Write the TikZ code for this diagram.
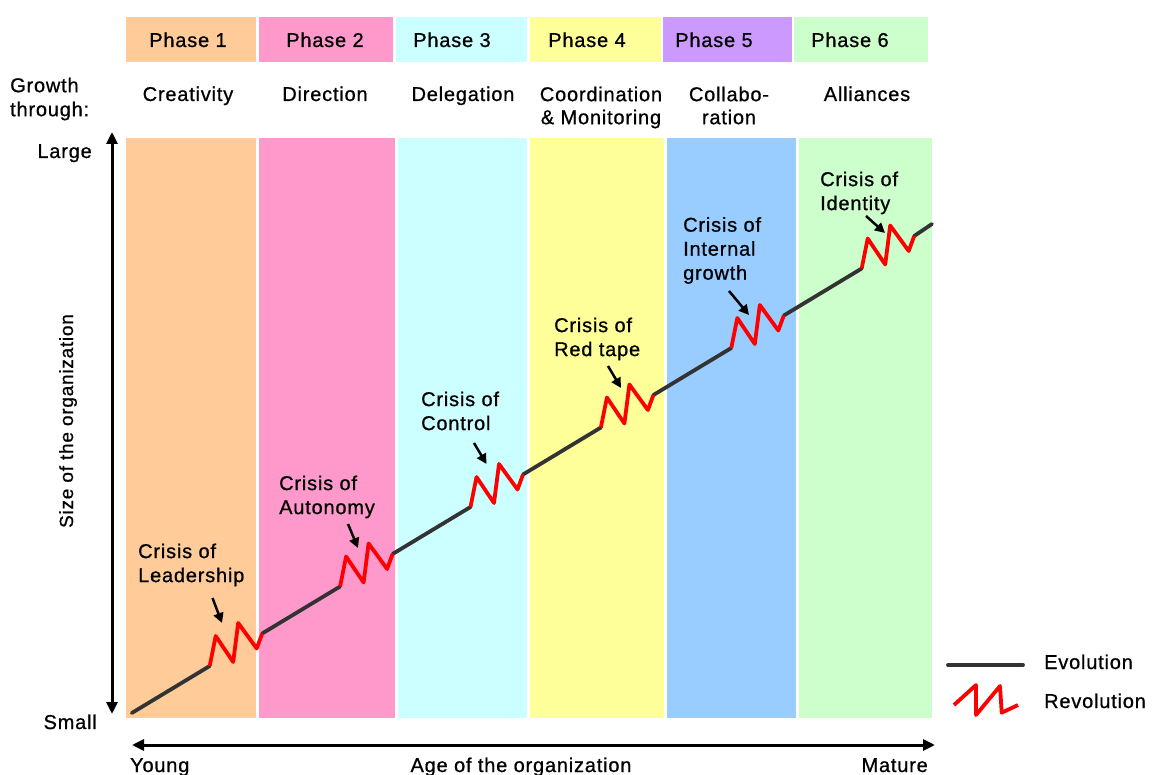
\documentclass[tikz,border=0pt]{standalone}
\usepackage{fontspec}
\setmainfont{Liberation Sans}[LetterSpace=4,FakeBold=0.8]
\usetikzlibrary{arrows.meta}
\definecolor{phA}{HTML}{FFCC99}
\definecolor{phB}{HTML}{FF99CC}
\definecolor{phC}{HTML}{CCFFFF}
\definecolor{phD}{HTML}{FFFF99}
\definecolor{phE}{HTML}{CC99FF}
\definecolor{phEbody}{HTML}{99CCFF}
\definecolor{phF}{HTML}{CCFFCC}
\definecolor{evocol}{HTML}{333333}
\definecolor{revcol}{HTML}{FF0000}
\begin{document}
\begin{tikzpicture}[x=1pt,y=-1pt,
  lbl/.style={font=\fontsize{20}{24}\selectfont, inner sep=0pt, anchor=base},
  lblblock/.style={font=\fontsize{20}{24}\selectfont, inner sep=0pt, align=left, anchor=north west},
  lblcenter/.style={font=\fontsize{20}{23}\selectfont, inner sep=0pt, align=center, anchor=north},
  evoline/.style={draw=evocol, line width=3.8pt, line cap=round},
  revline/.style={draw=revcol, line width=3.8pt, line join=round},
  axisarrow/.style={draw=black, line width=3pt, {Triangle[length=12pt,width=11pt]}-{Triangle[length=12pt,width=11pt]}},
  crisisarrow/.style={draw=black, line width=2.5pt, -{Triangle[length=10pt,width=10pt]}}
]
% page
\fill[white] (0,0) rectangle (1152,775);
\useasboundingbox (0,0) rectangle (1152,775);

% phase headers
\fill[phA] (126,17) rectangle (256,62);
\fill[phB] (259,17) rectangle (393,62);
\fill[phC] (396,17) rectangle (527,62);
\fill[phD] (530,17) rectangle (661,62);
\fill[phE] (663,17) rectangle (792,62);
\fill[phF] (794,17) rectangle (928,62);
\node[lbl] (h1) at (188,47) {Phase 1};
\node[lbl] (h2) at (325,47) {Phase 2};
\node[lbl] (h3) at (452,47) {Phase 3};
\node[lbl] (h4) at (587,47) {Phase 4};
\node[lbl] (h5) at (714,47) {Phase 5};
\node[lbl] (h6) at (850,47) {Phase 6};

% phase columns
\fill[phA] (126,138) rectangle (256,718);
\fill[phB] (259,138) rectangle (395,718);
\fill[phC] (398,138) rectangle (527,718);
\fill[phD] (530,138) rectangle (664,718);
\fill[phEbody] (667,138) rectangle (796,718);
\fill[phF] (799,138) rectangle (932,718);

% growth row
\node[lblblock] (gt) at (10,77.5) {Growth\\through:};
\node[lbl] (g1) at (188,101) {Creativity};
\node[lbl] (g2) at (325,101) {Direction};
\node[lbl] (g3) at (463,101) {Delegation};
\node[lblcenter] (g4) at (601,86.5) {Coordination\\\& Monitoring};
\node[lblcenter] (g5) at (729,86.5) {Collabo-\\ration};
\node[lbl] (g6) at (867,101) {Alliances};

% axes
\coordinate (vtop) at (112,132);
\coordinate (vbot) at (112,714);
\draw[axisarrow] (vbot) -- (vtop);
\node[lbl, anchor=base east] (large) at (92,158) {Large};
\node[lbl, anchor=base east] (small) at (97,729) {Small};
\node[font=\fontsize{19}{23}\selectfont, inner sep=0pt, rotate=90, anchor=base] (size) at (73,421) {Size of the organization};

\coordinate (hleft) at (132,745);
\coordinate (hright) at (935,745);
\draw[axisarrow] (hleft) -- (hright);
\node[lbl, anchor=base west] (young) at (130,772) {Young};
\node[lbl] (age) at (521,772) {Age of the organization};
\node[lbl, anchor=base east] (mature) at (928,772) {Mature};

% evolution and revolution path
\coordinate (e0) at (131.8,713);
\foreach \i in {0,...,5} {
  \coordinate (b\i) at ({209.7+130.4*\i},{666-79.5*\i});
}
\draw[evoline] (e0) -- (b0);
\foreach \i/\j in {0/1,1/2,2/3,3/4,4/5} {
  \path (b\i) ++(52.5,-32.5) coordinate (z\i);
  \draw[evoline] (z\i) -- (b\j);
}
\path (b5) ++(52.5,-32.5) coordinate (z5);
\coordinate (eend) at (932,224);
\draw[evoline] (z5) -- (eend);
\foreach \i in {0,...,5} {
  \draw[revline] (b\i) -- ++(6,-30) -- ++(17.5,26) -- ++(5,-39) -- ++(18.5,25.5) -- ++(5.5,-15);
}

% crisis labels
\node[lblblock] (c1) at (138,543.4) {Crisis of\\Leadership};
\node[lblblock] (c2) at (279,475.4) {Crisis of\\Autonomy};
\node[lblblock] (c3) at (421,391.4) {Crisis of\\Control};
\node[lblblock] (c4) at (554,317.4) {Crisis of\\Red tape};
\node[lblblock] (c5) at (683,217) {Crisis of\\Internal\\growth};
\node[lblblock] (c6) at (820,171.4) {Crisis of\\Identity};

% crisis pointers
\coordinate (t1) at (212.5,598); \coordinate (p1) at (222,623);
\coordinate (t2) at (348,524);   \coordinate (p2) at (358,548);
\coordinate (t3) at (474,443);   \coordinate (p3) at (486.5,464);
\coordinate (t4) at (608,366);   \coordinate (p4) at (621,388);
\coordinate (t5) at (729,291);   \coordinate (p5) at (749,315);
\coordinate (t6) at (866,216);   \coordinate (p6) at (885,233);
\foreach \k in {1,...,6} { \draw[crisisarrow] (t\k) -- (p\k); }

% legend
\coordinate (la) at (948,665);
\coordinate (lb) at (1023,665);
\draw[evoline] (la) -- (lb);
\node[lbl, anchor=base west] (levo) at (1044,669) {Evolution};
\draw[revline] (954,705) -- (976,685) -- (976,715) -- (1000,686) -- (1001.7,712.7) -- (1018,705);
\node[lbl, anchor=base west] (lrev) at (1044,708) {Revolution};
\end{tikzpicture}
\end{document}
